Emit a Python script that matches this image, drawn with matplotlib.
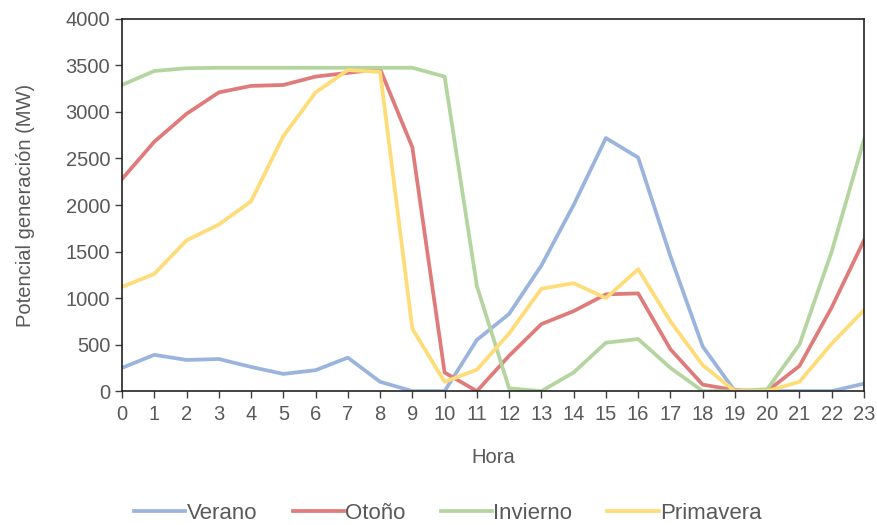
import matplotlib
matplotlib.use('Agg')
import matplotlib.pyplot as plt
import numpy as np

plt.rcParams['font.family'] = ['Liberation Sans', 'DejaVu Sans']

horas = list(range(24))
verano = [250, 390, 335, 345, 260, 185, 225, 360, 100, 0, 0, 550, 830, 1350,
          2000, 2720, 2510, 1450, 480, 0, 0, 0, 0, 80]
otono = [2280, 2680, 2980, 3210, 3280, 3290, 3380, 3420, 3460, 2620, 200, 0,
         380, 720, 860, 1040, 1050, 450, 70, 10, 0, 270, 900, 1620]
invierno = [3290, 3440, 3470, 3475, 3475, 3475, 3475, 3475, 3475, 3475, 3380,
            1130, 30, 0, 200, 520, 560, 250, 0, 0, 20, 500, 1500, 2700]
primavera = [1120, 1260, 1620, 1790, 2040, 2740, 3210, 3450, 3430, 670, 100,
             230, 620, 1100, 1160, 1000, 1310, 750, 280, 0, 0, 100, 510, 870]

series = [('Verano', verano, '#9bb4de'),
          ('Otoño', otono, '#df7b7b'),
          ('Invierno', invierno, '#b4d5a0'),
          ('Primavera', primavera, '#fedc78')]

fig = plt.figure(figsize=(8.78, 5.25), dpi=100)
ax = fig.add_axes([0.139, 0.255, 0.845, 0.709])

for name, vals, col in series:
    ax.plot(horas, vals, color=col, lw=2.7, label=name, solid_joinstyle='round')

ax.set_xlim(0, 23)
ax.set_ylim(0, 4000)
ax.set_xticks(horas)
ax.set_yticks(np.arange(0, 4001, 500))
ax.tick_params(labelsize=14.5, colors='#404040', direction='out', length=5, width=1)
ax.tick_params(axis='both', labelcolor='#595959')
ax.tick_params(axis='x', pad=5)
for s in ax.spines.values():
    s.set_color('#222222')
    s.set_linewidth(1.2)

ax.set_xlabel('Hora', fontsize=14.5, color='#595959', labelpad=17)
ax.set_ylabel('Potencial generación (MW)', fontsize=14.5, color='#595959', labelpad=22)

fig.legend(loc='center', bbox_to_anchor=(0.51, 0.022), ncol=4, frameon=False,
           fontsize=16, handlelength=2.3, handletextpad=0.05, columnspacing=1.6,
           labelcolor='#595959')

fig.savefig('out.png', dpi=100)
